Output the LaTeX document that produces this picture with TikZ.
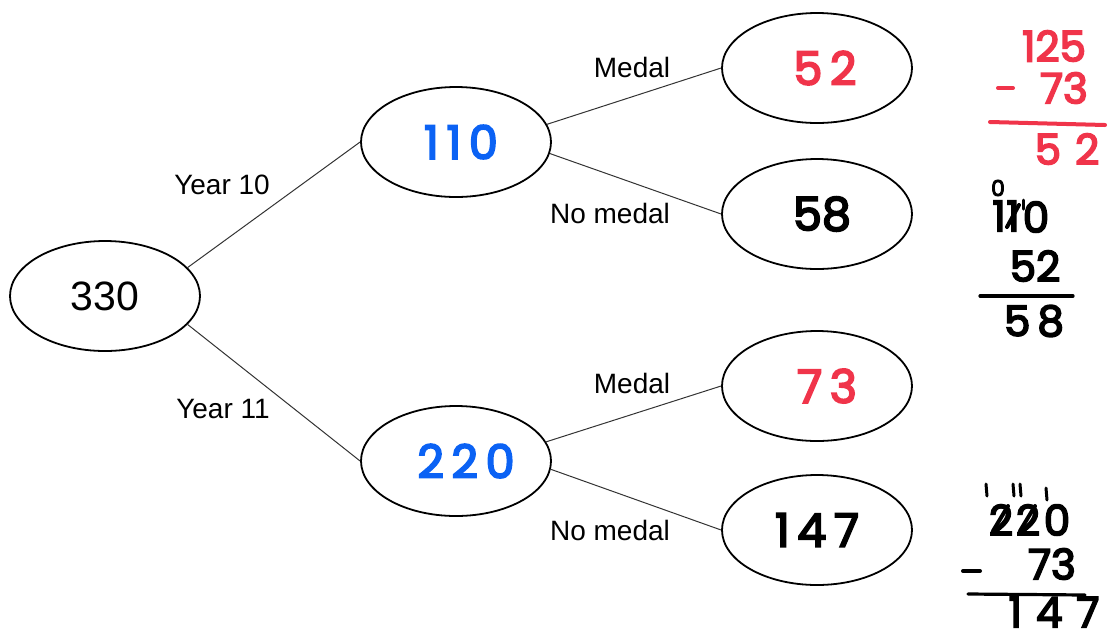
\documentclass[tikz,border=0pt]{standalone}
\usepackage{fontspec}
\setmainfont{Liberation Sans}
\newfontfamily\hand{Poppins}[FakeBold=4]
\usetikzlibrary{shapes.geometric}
\definecolor{penred}{HTML}{F0344A}
\definecolor{penblue}{HTML}{0B62F4}
\begin{document}
\begin{tikzpicture}[x=0.5pt,y=-0.5pt,
  oval/.style={ellipse,draw,line width=0.9pt,minimum width=95pt,minimum height=55pt,inner sep=0pt},
  branch/.style={draw,line width=0.5pt,black!80},
  lbl/.style={font=\fontsize{14}{16}\selectfont},
  big/.style={font=\fontsize{20.5}{24}\selectfont},
  pen/.style={font=\hand\fontsize{23}{26}\selectfont,inner sep=0pt},
  sum/.style={font=\hand\fontsize{21}{24}\selectfont,inner sep=0pt},
  penfine/.style={font=\hand\fontsize{11}{13}\selectfont,inner sep=0pt},
  stroke/.style={line width=2pt,line cap=round}]
  \useasboundingbox (0,0) rectangle (1110,639);
  \node[oval,big] (n330) at (105,296) {330};
  \node[oval,pen,text=penblue] (n110) at (456,142) {\hspace{5pt}1\,1\,0};
  \node[oval,pen,text=penblue] (n220) at (456,461) {\hspace{10pt}2\,2\,0};
  \node[oval,pen,text=penred] (n52) at (817,68) {\hspace{8pt}5\,2};
  \node[oval,pen] (n58) at (817,214) {\hspace{5pt}58};
  \node[oval,pen,text=penred] (n73) at (817,386) {\hspace{10pt}7\,3};
  \node[oval,pen] (n147) at (817,530) {1\,4\,7};
  \draw[branch] (n330.19) -- (n110.west);
  \draw[branch] (n330.-19) -- (n220.west);
  \draw[branch] (n110.11) -- (n52.west);
  \draw[branch] (n110.-7) -- (n58.west);
  \draw[branch] (n220.12) -- (n73.west);
  \draw[branch] (n220.-5) -- (n147.west);
  \node[lbl] (y10) at (222,185) {Year 10};
  \node[lbl] (y11) at (223,409) {Year 11};
  \node[lbl] (m1) at (632,67) {Medal};
  \node[lbl] (nm1) at (610,213) {No medal};
  \node[lbl] (m2) at (632,383) {Medal};
  \node[lbl] (nm2) at (610,530) {No medal};
  \node[sum,text=penred] (a1) at (1054,46) {125};
  \node[sum,text=penred] (a2) at (1064,88) {73};
  \draw[stroke,penred] (998,88) -- (1013,88);
  \draw[penred,line width=2pt,line cap=round] (990,122) -- (1105,125);
  \node[sum,text=penred] (a3) at (1067,149) {5\,\,2};
  \node[penfine] (b0) at (998,188) {0};
  \node[sum] (b1) at (999,216) {1};
  \node[sum] (b2) at (1013,216) {1};
  \draw[stroke] (1007,227) -- (1019,205);
  \draw[stroke,line width=1.5pt] (1023,200) -- (1023,209);
  \node[sum] (b3) at (1036,217) {0};
  \node[sum] (b4) at (1035,266) {52};
  \draw[line width=1.6pt,line cap=round] (980,296) -- (1073,296);
  \node[sum] (b5) at (1034,321) {5\,8};
  \draw[stroke,line width=1.5pt] (986,484) -- (987,496);
  \draw[stroke,line width=1.5pt] (1013,484) -- (1014,496);
  \draw[stroke,line width=1.5pt] (1020,484) -- (1021,496);
  \draw[stroke,line width=1.5pt] (1046,488) -- (1047,500);
  \node[sum] (c1) at (1001,520) {2};
  \node[sum] (c2) at (1028,520) {2};
  \node[sum] (c3) at (1057,520) {0};
  \draw[stroke] (993,531) -- (1008,506);
  \draw[stroke] (1020,531) -- (1035,506);
  \draw[stroke] (963,571) -- (980,571);
  \node[sum] (c4) at (1052,564) {73};
  \draw[line width=1.6pt,line cap=round] (968,594) -- (1085,595);
  \node[sum] (c5) at (1054,612) {1\,\,4\,\,7};
\end{tikzpicture}
\end{document}
